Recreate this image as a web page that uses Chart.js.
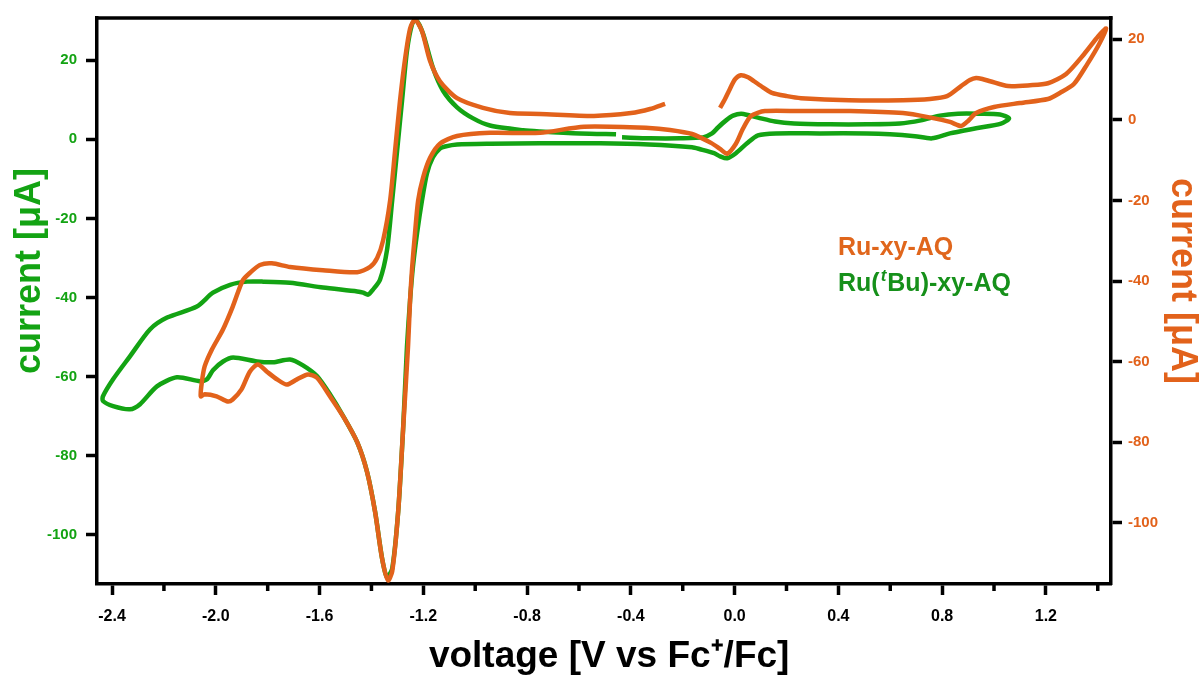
<!DOCTYPE html>
<html>
<head>
<meta charset="utf-8">
<script src="https://cdn.jsdelivr.net/npm/chart.js@4.4.1/dist/chart.umd.min.js"></script>
<style>
    html, body { margin: 0; padding: 0; background: #fff; }
</style>
</head>
<body>
<canvas id="cvChart" width="1200" height="675"></canvas>
<script>
// Ru(tBu)-xy-AQ, left axis (green)
var greenV = [-0.434, -0.326, -0.210, -0.122, -0.087, -0.064, -0.033, -0.006, 0.025, 0.059, 0.090, 0.156, 0.229, 0.368, 0.510, 0.637, 0.718, 0.792, 0.861, 0.946, 1.023, 1.058, 1.027, 0.931, 0.830, 0.761, 0.695, 0.599, 0.510, 0.329, 0.159, 0.090, 0.048, 0.005, -0.029, -0.056, -0.079, -0.133, -0.164, -0.330, -0.519, -0.750, -0.943, -1.070, -1.116, -1.136, -1.163, -1.186, -1.205, -1.224, -1.240, -1.251, -1.263, -1.278, -1.297, -1.320, -1.340, -1.359, -1.386, -1.417, -1.455, -1.509, -1.560, -1.610, -1.664, -1.714, -1.779, -1.841, -1.933, -1.972, -2.011, -2.034, -2.061, -2.150, -2.227, -2.292, -2.331, -2.396, -2.435, -2.435, -2.396, -2.331, -2.254, -2.188, -2.073, -2.011, -1.945, -1.879, -1.818, -1.714, -1.587, -1.455, -1.432, -1.413, -1.394, -1.367, -1.340, -1.320, -1.301, -1.282, -1.263, -1.243, -1.228, -1.201, -1.163, -1.124, -1.070, -1.008, -0.943, -0.815, -0.750, -0.596, -0.457];
var greenI = [0.5, 0.25, 0.25, 0.5, 1.5, 3.0, 4.8, 6.0, 6.5, 6.0, 5.5, 4.5, 4.0, 3.8, 3.8, 4.0, 4.8, 6.0, 6.5, 6.5, 6.3, 5.3, 4.0, 2.8, 1.5, 0.25, 0.8, 1.3, 1.5, 1.5, 1.5, 1.0, -1.0, -3.5, -4.8, -4.3, -3.5, -2.5, -2.0, -1.3, -1.0, -1.0, -1.1, -1.3, -1.8, -2.3, -4.5, -8.6, -15.4, -23.7, -32.2, -40.6, -52.4, -73.3, -94.2, -108.6, -110.8, -106.0, -94.2, -84.1, -76.6, -70.0, -64.5, -59.9, -57.2, -55.7, -56.4, -56.2, -55.2, -56.2, -58.4, -60.7, -61.2, -60.2, -62.5, -67.0, -68.3, -67.5, -66.2, -65.0, -60.7, -54.9, -48.1, -45.1, -42.3, -38.8, -36.8, -36.0, -36.0, -36.3, -37.5, -38.5, -38.8, -39.3, -38.0, -35.5, -28.0, -15.4, -2.8, 9.8, 22.4, 29.2, 30.2, 26.7, 18.1, 12.3, 8.1, 5.3, 3.5, 2.3, 2.0, 1.5, 1.3];

// Ru-xy-AQ, right axis (orange)
var orangeV = [-0.056, -0.037, -0.022, 0.002, 0.024, 0.052, 0.075, 0.109, 0.144, 0.202, 0.256, 0.441, 0.649, 0.753, 0.819, 0.873, 0.907, 0.931, 0.958, 0.985, 1.054, 1.139, 1.208, 1.278, 1.347, 1.401, 1.432, 1.405, 1.359, 1.308, 1.254, 1.208, 1.100, 1.000, 0.931, 0.900, 0.873, 0.830, 0.761, 0.649, 0.445, 0.252, 0.117, 0.063, 0.032, 0.005, -0.029, -0.056, -0.091, -0.164, -0.249, -0.330, -0.580, -0.750, -0.943, -1.070, -1.136, -1.174, -1.201, -1.220, -1.232, -1.243, -1.251, -1.259, -1.278, -1.297, -1.320, -1.336, -1.359, -1.386, -1.417, -1.455, -1.509, -1.560, -1.610, -1.645, -1.687, -1.726, -1.764, -1.803, -1.838, -1.869, -1.901, -1.935, -1.954, -1.997, -2.043, -2.058, -2.054, -2.043, -2.015, -1.973, -1.935, -1.896, -1.869, -1.830, -1.784, -1.714, -1.587, -1.455, -1.405, -1.378, -1.355, -1.328, -1.309, -1.290, -1.270, -1.251, -1.232, -1.205, -1.174, -1.136, -1.070, -0.970, -0.866, -0.750, -0.542, -0.399, -0.326, -0.268];
var orangeI = [3.0, 5.2, 7.2, 10.1, 11.1, 10.6, 9.6, 8.1, 6.7, 5.9, 5.4, 4.9, 4.9, 5.2, 5.9, 8.4, 9.9, 10.4, 10.1, 9.6, 8.4, 8.6, 9.1, 11.4, 16.3, 20.7, 22.7, 18.8, 13.8, 8.9, 6.7, 5.2, 4.2, 3.2, 1.7, -0.25, -1.5, -0.5, 0.5, 1.7, 2.2, 2.2, 2.2, 1.0, -2.2, -5.9, -8.4, -7.2, -5.7, -3.5, -2.5, -2.0, -1.7, -3.2, -3.2, -4.0, -5.9, -9.4, -14.3, -20.0, -28.1, -36.5, -44.7, -56.3, -76.8, -97.3, -112.1, -114.3, -108.9, -97.3, -87.4, -80.0, -73.6, -68.6, -64.0, -63.2, -64.4, -65.7, -64.4, -62.5, -60.7, -62.5, -66.9, -69.4, -69.9, -68.6, -68.1, -68.6, -65.2, -61.2, -57.0, -52.1, -46.4, -39.8, -38.0, -36.0, -35.6, -36.5, -37.3, -37.8, -36.5, -34.3, -29.9, -20.0, -7.7, 4.7, 15.3, 22.7, 24.9, 22.0, 14.6, 9.6, 5.4, 3.0, 1.7, 1.5, 1.0, 1.7, 2.7, 4.0];

var xTicks = [-2.4, -2.0, -1.6, -1.2, -0.8, -0.4, 0.0, 0.4, 0.8, 1.2];
var xMinorTicks = [-2.2, -1.8, -1.4, -1.0, -0.6, -0.2, 0.2, 0.6, 1.0, 1.4];
var leftTicks = [20, 0, -20, -40, -60, -80, -100];
var rightTicks = [20, 0, -20, -40, -60, -80, -100];

var GREEN = "#13a313";
var ORANGE = "#e2621b";
var FONT = "'Liberation Sans', Arial, sans-serif";

function toPoints(xs, ys) {
    return xs.map(function (x, i) { return { x: x, y: ys[i] }; });
}

function fixTicks(list) {
    return function (scale) {
        scale.ticks = list.map(function (v) { return { value: v }; });
    };
}

// top frame line, minor x ticks and the text legend
var extrasPlugin = {
    id: "extras",
    afterDraw: function (chart) {
        var ctx = chart.ctx;
        var area = chart.chartArea;
        var xs = chart.scales.x;
        ctx.save();
        ctx.strokeStyle = "#000";
        ctx.lineWidth = 3.5;
        ctx.beginPath();
        ctx.moveTo(area.left - 1.5, area.top);
        ctx.lineTo(area.right + 1.5, area.top);
        ctx.stroke();

        xMinorTicks.forEach(function (v) {
            var px = xs.getPixelForValue(v);
            if (px < area.left || px > area.right) return;
            ctx.beginPath();
            ctx.moveTo(px, area.bottom);
            ctx.lineTo(px, area.bottom + 7);
            ctx.stroke();
        });

        ctx.textBaseline = "alphabetic";
        ctx.font = "bold 25px " + FONT;
        ctx.fillStyle = "#e0661c";
        ctx.fillText("Ru-xy-AQ", 838, 255);

        var x = 838, y = 291;
        ctx.fillStyle = "#16901a";
        ctx.fillText("Ru(", x, y);
        x += ctx.measureText("Ru(").width;
        ctx.font = "italic bold 17px " + FONT;
        ctx.fillText("t", x + 1, y - 10);
        x += ctx.measureText("t").width + 2;
        ctx.font = "bold 25px " + FONT;
        ctx.fillText("Bu)-xy-AQ", x, y);
        ctx.restore();
    }
};

var ctx = document.getElementById("cvChart").getContext("2d");

new Chart(ctx, {
    type: "scatter",
    data: {
        datasets: [
            {
                label: "Ru-xy-AQ",
                data: toPoints(orangeV, orangeI),
                yAxisID: "y1",
                showLine: true,
                borderColor: ORANGE,
                borderWidth: 4.5,
                pointRadius: 0,
                tension: 0.25,
                order: 0,
            },
            {
                label: "Ru(tBu)-xy-AQ",
                data: toPoints(greenV, greenI),
                yAxisID: "y",
                showLine: true,
                borderColor: GREEN,
                borderWidth: 4.5,
                pointRadius: 0,
                tension: 0.25,
                order: 1,
            },
        ],
    },
    options: {
        responsive: false,
        animation: false,
        layout: { padding: { top: 17, left: 0, right: 0, bottom: 0 } },
        plugins: { legend: { display: false }, tooltip: { enabled: false } },
        scales: {
            x: {
                type: "linear",
                position: "bottom",
                min: -2.458,
                max: 1.451,
                afterBuildTicks: fixTicks(xTicks),
                afterFit: function (s) { s.height = 91; },
                ticks: {
                    callback: function (v) { return v.toFixed(1); },
                    color: "#000",
                    font: { family: FONT, size: 16, weight: "bold" },
                    padding: 12,
                    maxRotation: 0,
                    autoSkip: false,
                },
                grid: { drawOnChartArea: false, tickLength: 11, tickWidth: 3.5, tickColor: "#000" },
                border: { display: true, color: "#000", width: 3.5 },
                title: {
                    display: true,
                    text: " voltage [V vs Fc\u207A/Fc]",
                    color: "#000",
                    font: { family: FONT, size: 37, weight: "bold", lineHeight: 1 },
                    padding: { top: 0, bottom: 0 },
                },
            },
            y: {
                type: "linear",
                position: "left",
                min: -112.5,
                max: 30.7,
                afterBuildTicks: fixTicks(leftTicks),
                afterFit: function (s) { s.width = 97; },
                ticks: {
                    color: GREEN,
                    font: { family: FONT, size: 15, weight: "bold" },
                    padding: 9,
                },
                grid: { drawOnChartArea: false, tickLength: 11, tickWidth: 3.5, tickColor: "#000" },
                border: { display: true, color: "#000", width: 3.5 },
                title: {
                    display: true,
                    text: "      current [\u03BCA]",
                    color: GREEN,
                    font: { family: FONT, size: 36, weight: "bold", lineHeight: 1 },
                    padding: { top: 12, bottom: 0 },
                },
            },
            y1: {
                type: "linear",
                position: "right",
                min: -115.2,
                max: 25.3,
                afterBuildTicks: fixTicks(rightTicks),
                afterFit: function (s) { s.width = 89; },
                ticks: {
                    color: ORANGE,
                    font: { family: FONT, size: 15, weight: "bold" },
                    padding: 6,
                },
                grid: { drawOnChartArea: false, tickLength: 11, tickWidth: 3.5, tickColor: "#000" },
                border: { display: true, color: "#000", width: 3.5 },
                title: {
                    display: true,
                    text: "current [\u03BCA]    ",
                    color: ORANGE,
                    font: { family: FONT, size: 36, weight: "bold", lineHeight: 1 },
                    padding: { top: 0, bottom: 0 },
                },
            },
        },
    },
    plugins: [extrasPlugin],
});
</script>
</body>
</html>
